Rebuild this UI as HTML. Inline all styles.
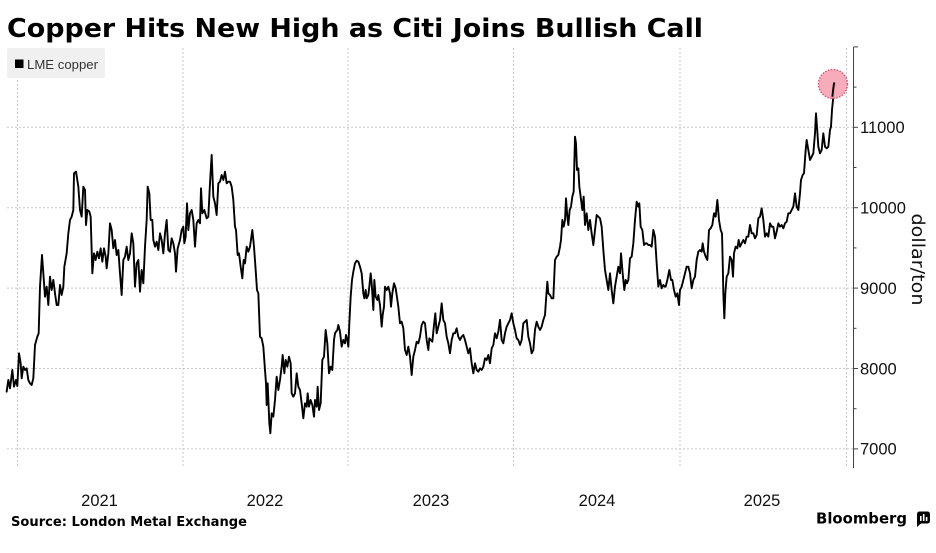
<!DOCTYPE html>
<html>
<head>
<meta charset="utf-8">
<style>
  html, body { margin: 0; padding: 0; background: #ffffff; }
  body { width: 936px; height: 553px; overflow: hidden; }
  svg { display: block; }
</style>
</head>
<body>
<svg width="936" height="553" viewBox="0 0 936 553" xmlns="http://www.w3.org/2000/svg">
  <rect x="0" y="0" width="936" height="553" fill="#ffffff"/>

  <!-- Title -->
  <text x="7" y="37" font-family="'DejaVu Sans', 'Liberation Sans', sans-serif" font-weight="bold" font-size="26" textLength="696" lengthAdjust="spacingAndGlyphs" fill="#000">Copper Hits New High as Citi Joins Bullish Call</text>

  <!-- Horizontal gridlines -->
  <g stroke="#c8c8c8" stroke-width="1" stroke-dasharray="2,2" fill="none">
    <line x1="7" y1="127.3" x2="853" y2="127.3"/>
    <line x1="7" y1="207.7" x2="853" y2="207.7"/>
    <line x1="7" y1="288.1" x2="853" y2="288.1"/>
    <line x1="7" y1="368.5" x2="853" y2="368.5"/>
    <line x1="7" y1="448.9" x2="853" y2="448.9"/>
  </g>
  <!-- Vertical gridlines -->
  <g stroke="#c8c8c8" stroke-width="1" stroke-dasharray="2,2" fill="none">
    <line x1="17.5" y1="48" x2="17.5" y2="468"/>
    <line x1="183" y1="48" x2="183" y2="468"/>
    <line x1="348" y1="48" x2="348" y2="468"/>
    <line x1="513.5" y1="48" x2="513.5" y2="468"/>
    <line x1="680" y1="48" x2="680" y2="468"/>
    <line x1="846.5" y1="48" x2="846.5" y2="468"/>
  </g>

  <!-- Legend -->
  <rect x="7" y="48" width="98" height="30" rx="2" fill="#f0f0f0"/>
  <rect x="15" y="59.5" width="8.5" height="8.5" fill="#000"/>
  <text x="27" y="69" font-family="'Liberation Sans', sans-serif" font-size="13" textLength="71" lengthAdjust="spacingAndGlyphs" fill="#333">LME copper</text>

  <!-- Y axis -->
  <g stroke="#444" stroke-width="1" fill="none">
    <line x1="853.5" y1="47" x2="853.5" y2="468"/>
    <line x1="853.5" y1="46.9" x2="858" y2="46.9"/>
    <line x1="853.5" y1="87.1" x2="856.5" y2="87.1"/>
    <line x1="853.5" y1="127.3" x2="858" y2="127.3"/>
    <line x1="853.5" y1="167.5" x2="856.5" y2="167.5"/>
    <line x1="853.5" y1="207.7" x2="858" y2="207.7"/>
    <line x1="853.5" y1="247.9" x2="856.5" y2="247.9"/>
    <line x1="853.5" y1="288.1" x2="858" y2="288.1"/>
    <line x1="853.5" y1="328.3" x2="856.5" y2="328.3"/>
    <line x1="853.5" y1="368.5" x2="858" y2="368.5"/>
    <line x1="853.5" y1="408.7" x2="856.5" y2="408.7"/>
    <line x1="853.5" y1="448.9" x2="858" y2="448.9"/>
  </g>
  <g font-family="'Liberation Sans', sans-serif" font-size="16.5" fill="#111">
    <text x="860" y="133.1">11000</text>
    <text x="860" y="213.5">10000</text>
    <text x="860" y="293.9">9000</text>
    <text x="860" y="374.3">8000</text>
    <text x="860" y="454.7">7000</text>
  </g>
  <text transform="translate(912,213.5) rotate(90)" x="0" y="0" font-family="'DejaVu Sans', 'Liberation Sans', sans-serif" font-size="18" textLength="92" lengthAdjust="spacingAndGlyphs" fill="#111">dollar/ton</text>

  <!-- X labels -->
  <g font-family="'Liberation Sans', sans-serif" font-size="16.5" fill="#111" text-anchor="middle">
    <text x="99.5" y="506">2021</text>
    <text x="265" y="506">2022</text>
    <text x="431" y="506">2023</text>
    <text x="597" y="506">2024</text>
    <text x="762" y="506">2025</text>
  </g>

  <!-- Data line -->
  <g fill="none" stroke="#000" stroke-width="1.9" stroke-linejoin="round" stroke-linecap="round">
    <polyline vector-effect="non-scaling-stroke" transform="translate(0,140) scale(0.33333)" points="20,755 25,720 30,745 37,690 42,740 48,720 52,738 57,640 62,670 65,715 70,680 75,690 80,685 85,720 90,730 95,735 100,715 105,615 112,590 116,580 120,440 126,345 130,400 135,470 140,440 145,495 150,410 155,450 160,420 165,460 170,495 175,495 180,435 185,465 190,440 193,380 200,340 205,280 210,240 215,230 220,210 222,100 228,95 235,140 240,210 245,230 250,140 255,150 258,255 262,210 268,215 272,230 277,400 282,340 287,360 292,335 297,355 302,325 307,365 312,325 317,350 320,385 325,340 330,250 335,270 340,325 345,300 350,345 355,330 360,400 365,465 370,360 375,350 380,320 385,360 390,340 395,280 400,310 405,440 410,370 415,360 420,455 425,390 430,430 435,320 440,240 443,140 448,160 452,240 457,240 460,300 465,320 470,305 475,330 480,280 485,300 490,340 495,280 500,240 505,330 510,335"/>
    <polyline vector-effect="non-scaling-stroke" transform="translate(165,140) scale(0.33333)" points="15,335 20,295 25,310 30,340 33,395 38,325 45,300 50,270 55,260 58,310 62,290 66,190 70,270 75,220 80,210 85,240 90,320 95,250 100,240 105,250 108,145 112,220 118,210 125,235 130,230 135,130 140,45 145,170 150,190 155,225 160,130 165,125 170,105 175,120 180,95 185,130 190,125 195,125 200,140 205,180 210,260 213,270 218,345 222,340 227,380 232,415 236,360 240,370 245,320 250,335 255,320 262,270 267,320 272,390 276,450 280,460 285,590 290,595 295,620 300,690 303,730 305,795 308,730 313,850 316,880 320,820 325,830 330,780 335,710 340,750 345,720 350,680 353,645 358,700 362,660 367,680 372,650 377,670 380,760 385,770 390,760 395,700 400,740 405,750 410,790 415,835 420,790 425,800 428,760 432,800 437,780 442,795 447,830 450,780 455,800 458,740 462,810 467,790 472,660 477,650 482,570 487,610 492,700 497,680 502,690 507,600 510,580"/>
    <polyline vector-effect="non-scaling-stroke" transform="translate(330,240) scale(0.33333)" points="15,280 18,275 22,270 25,255 30,275 35,320 40,300 45,310 48,285 52,300 55,320 58,250 62,170 66,120 70,95 75,70 80,62 85,65 90,80 95,100 100,160 103,175 107,150 110,175 115,165 118,140 122,100 125,130 130,210 133,120 137,170 142,180 145,165 150,195 155,260 158,225 162,200 165,140 170,150 175,140 180,160 183,200 187,160 192,130 197,145 200,165 205,200 210,250 215,245 220,265 225,330 230,345 235,320 240,350 245,405 250,350 255,330 260,305 265,310 270,290 275,255 280,245 285,250 290,300 295,330 298,295 302,300 307,305 312,255 316,220 320,280 325,260 330,240 335,190 340,240 345,250 350,290 355,310 360,340 365,300 370,280 375,280 380,265 385,290 390,300 395,290 400,285 405,300 410,320 415,340 420,325 425,370 430,400 435,370 440,390 445,395 450,385 455,390 460,380 465,355 470,360 475,345 480,370 485,325 490,315 495,280 500,295 505,275 510,240"/>
    <polyline vector-effect="non-scaling-stroke" transform="translate(495,130) scale(0.33333)" points="15,570 20,630 25,640 30,610 35,590 40,580 45,570 50,550 55,580 60,600 65,625 70,630 75,645 80,630 85,580 90,575 95,570 100,620 105,640 110,670 115,660 120,600 125,575 130,590 135,600 140,590 145,570 150,555 153,510 157,455 160,490 165,495 170,505 175,505 180,390 185,380 190,375 195,350 198,330 202,270 206,290 210,270 213,205 217,260 220,285 224,240 228,230 232,200 236,185 240,20 243,40 246,120 250,115 253,170 257,200 262,240 266,200 270,285 275,250 280,300 285,270 290,310 295,345 300,300 305,255 310,260 315,265 320,290 325,360 330,420 335,450 340,480 345,430 350,480 355,520 360,470 365,440 370,410 375,430 378,370 383,430 388,480 392,450 396,460 400,450 405,385 410,380 415,340 420,270 425,215 430,230 433,220 437,290 442,300 447,345 452,340 455,340 460,345 465,345 470,350 475,300 480,320 485,400 490,470 495,450 500,475 505,465 510,470"/>
    <polyline vector-effect="non-scaling-stroke" transform="translate(660,60) scale(0.33333)" points="15,680 17,680 22,660 28,630 33,660 37,660 42,690 47,710 52,700 57,735 60,690 65,680 70,660 75,640 80,620 85,620 90,640 95,685 100,660 105,650 110,600 115,575 120,570 125,575 128,550 132,575 137,590 142,600 147,510 152,505 157,495 162,460 167,470 172,420 177,480 182,510 186,520 188,600 190,700 193,775 196,700 200,650 205,640 210,590 215,600 219,650 222,580 227,560 232,565 236,540 240,560 245,550 250,540 255,550 260,530 265,530 270,495 275,520 280,520 285,535 290,525 295,475 300,470 305,445 310,480 315,530 320,520 325,530 330,490 335,500 340,500 345,535 350,515 355,490 360,500 365,495 370,505 375,490 380,485 385,460 390,460 395,450 400,440 405,400 410,440 415,450 420,400 423,360 428,345 432,340 437,270 440,240 445,270 450,300 455,290 460,280 465,220 468,160 472,215 475,260 480,280 485,270 490,220 495,260 500,265 505,260 510,210 513,200 516,150 520,110 522,85 525,70"/>
  </g>

  <!-- Highlight circle -->
  <circle cx="833" cy="84" r="14.5" fill="#f5a3b4" fill-opacity="0.9" stroke="#e0455f" stroke-width="1.3" stroke-dasharray="1.5,1.5"/>
  <polyline fill="none" stroke="#000" stroke-width="1.9" stroke-linejoin="round" points="832.3,96.7 833.3,88.3 834,83.3 835,83"/>

  <!-- Source -->
  <text x="11" y="526" font-family="'DejaVu Sans', 'Liberation Sans', sans-serif" font-weight="bold" font-size="13" textLength="236" lengthAdjust="spacingAndGlyphs" fill="#000">Source: London Metal Exchange</text>

  <!-- Bloomberg logo -->
  <text x="816" y="523.5" font-family="'DejaVu Sans', 'Liberation Sans', sans-serif" font-weight="bold" font-size="15" textLength="91" lengthAdjust="spacingAndGlyphs" fill="#000">Bloomberg</text>
  <g>
    <rect x="917" y="511.5" width="13" height="12" rx="2.5" fill="#000"/>
    <polygon points="917,521 917,527 921,523.5" fill="#000"/>
    <rect x="920" y="516" width="1.6" height="5" fill="#fff"/>
    <rect x="922.9" y="514" width="1.6" height="7" fill="#fff"/>
    <rect x="925.8" y="517" width="1.6" height="4" fill="#fff"/>
  </g>
</svg>
</body>
</html>
